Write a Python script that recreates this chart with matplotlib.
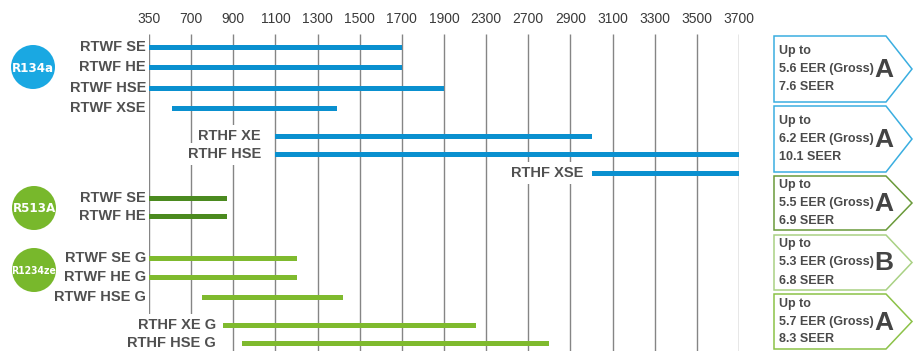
"""Chiller capacity ranges per refrigerant, with efficiency badges."""

import matplotlib

matplotlib.use("Agg")
import matplotlib.pyplot as plt
import numpy as np
from matplotlib.patches import Circle, Polygon

# capacity axis (kW) - ticks are evenly spaced, values are not
tick_values = [350, 700, 900, 1100, 1300, 1500, 1700, 1900, 2300, 2700, 2900, 3100, 3300, 3500, 3700]

models = [
    "RTWF SE", "RTWF HE", "RTWF HSE", "RTWF XSE",
    "RTHF XE", "RTHF HSE", "RTHF XSE",
    "RTWF SE", "RTWF HE",
    "RTWF SE G", "RTWF HE G", "RTWF HSE G",
    "RTHF XE G", "RTHF HSE G",
]
range_start = [350, 350, 350, 540, 1100, 1100, 3000, 350, 350, 350, 350, 750, 850, 940]
range_end = [1700, 1700, 1900, 1390, 3000, 3700, 3700, 870, 870, 1200, 1200, 1420, 2200, 2800]
refrigerant = ["R134a"] * 7 + ["R513A"] * 2 + ["R1234ze"] * 5

refrigerants = ["R134a", "R513A", "R1234ze"]
badge_eer = ["5.6", "6.2", "5.5", "5.3", "5.7"]
badge_seer = ["7.6", "10.1", "6.9", "6.8", "8.3"]
badge_class = ["A", "A", "A", "B", "A"]

# layout (figure pixels, y downward)
row_y = [47, 67, 88, 108, 136, 154, 173, 198, 216, 258, 277, 297, 325, 343]
label_right = [146, 146, 146, 146, 261, 261, 583, 146, 146, 146, 146, 146, 216, 216]
circle_xy = [(33, 67), (34, 208), (34, 270)]
badge_top = [36, 106, 176, 235, 294]
badge_bottom = [102, 172, 230, 290, 349]

bar_colors = {"R134a": "#0a90cf", "R513A": "#4b8a1f", "R1234ze": "#7fba2e"}
circle_colors = {"R134a": "#1aa8e2", "R513A": "#78b82c", "R1234ze": "#78b82c"}
badge_edges = ["#3aaee0", "#3aaee0", "#6a9a3a", "#a9d184", "#8cc248"]
text_color = "#505050"
font = ["Liberation Sans", "DejaVu Sans"]

W, H = 914, 351
fig = plt.figure(figsize=(W / 100, H / 100), dpi=100)

positions = np.arange(len(tick_values))


def forward(x):
    return np.interp(x, tick_values, positions)


def inverse(p):
    return np.interp(p, positions, tick_values)


x0, x1 = 149, 739
ax = fig.add_axes([x0 / W, 0, (x1 - x0) / W, 1])
ax.set_xscale("function", functions=(forward, inverse))
ax.set_xlim(tick_values[0], tick_values[-1])
ax.set_ylim(H, 0)
ax.axis("off")

ax.vlines(tick_values, 34, H, colors="#858585", linewidth=1.0, zorder=1)
for v in tick_values:
    ax.text(v, 19, str(v), ha="center", va="center", fontsize=10,
            color="#3a3a3a", family=font)

for start, end, y, ref in zip(range_start, range_end, row_y, refrigerant):
    ax.barh(y, end - start, left=start, height=5, color=bar_colors[ref], zorder=2)

# overlay in pixel coordinates for labels, circles and badges
ov = fig.add_axes([0, 0, 1, 1])
ov.set_xlim(0, W)
ov.set_ylim(H, 0)
ov.axis("off")

for name, y, xr in zip(models, row_y, label_right):
    box = None
    if xr > 150:
        box = {"boxstyle": "square,pad=0.25", "facecolor": "white", "edgecolor": "none"}
    ov.text(xr, y, name, ha="right", va="center", fontsize=10.5, fontweight="bold",
            color=text_color, family=font, bbox=box, zorder=3)

for ref, (cx, cy) in zip(refrigerants, circle_xy):
    ov.add_patch(Circle((cx, cy), 22, facecolor=circle_colors[ref], edgecolor="none"))
    ov.text(cx, cy + 1, ref, ha="center", va="center", color="white", fontweight="bold",
            fontsize=9.5 if len(ref) < 6 else 7.5, family="DejaVu Sans",
            fontstretch="condensed")

bx0, bx1, tip = 774, 886, 912
for top, bottom, edge, eer, seer, cls in zip(badge_top, badge_bottom, badge_edges,
                                             badge_eer, badge_seer, badge_class):
    mid = (top + bottom) / 2
    ov.add_patch(Polygon([(bx0, top), (bx1, top), (tip, mid), (bx1, bottom), (bx0, bottom)],
                         closed=True, facecolor="white", edgecolor=edge, linewidth=1.1))
    for dy, line in zip((-18, 0, 18), ("Up to", f"{eer} EER (Gross)", f"{seer} SEER")):
        ov.text(779, mid + dy, line, ha="left", va="center", fontsize=9,
                fontweight="bold", color="#4a4a4a", family=font)
    ov.text(884, mid + 1, cls, ha="center", va="center", fontsize=19, fontweight="bold",
            color="#444444", family=font)

fig.savefig("out.png", dpi=100, facecolor="white")
